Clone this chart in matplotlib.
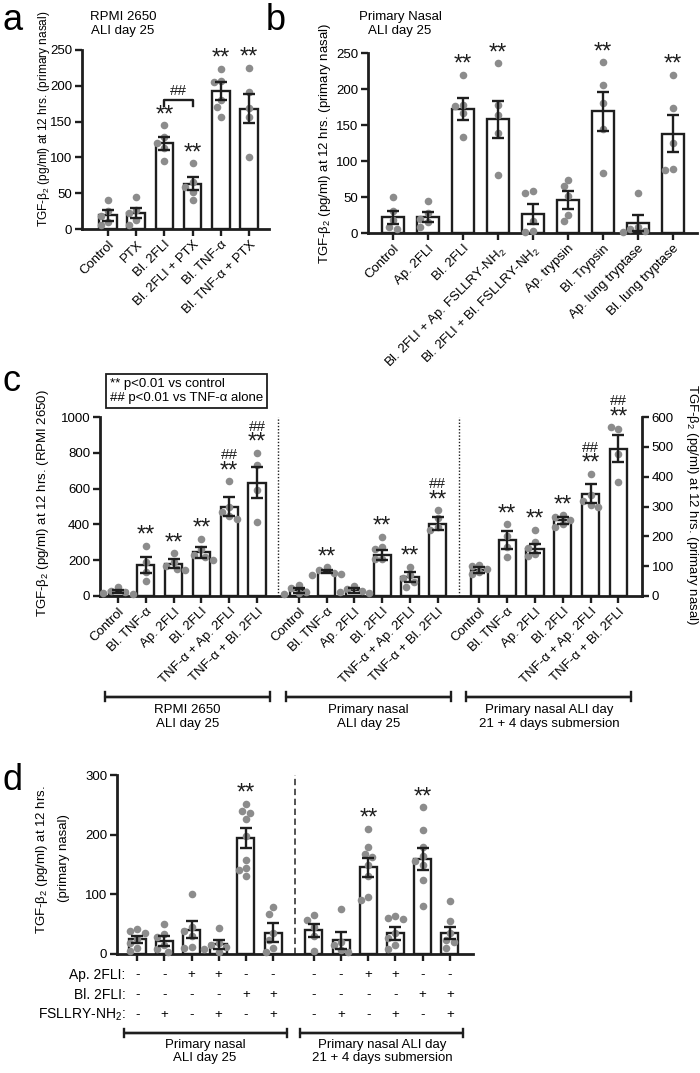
import matplotlib
matplotlib.use("Agg")
import matplotlib.pyplot as plt
from matplotlib.lines import Line2D
import numpy as np

plt.rcParams['font.family'] = ['Liberation Sans', 'DejaVu Sans']
plt.rcParams['mathtext.fontset'] = 'custom'
plt.rcParams['mathtext.rm'] = 'Liberation Sans'
plt.rcParams['mathtext.default'] = 'regular'

# ---- panel a: RPMI 2650 ----
a_labels = ['Control', 'PTX', 'Bl. 2FLI', 'Bl. 2FLI + PTX', 'Bl. TNF-α', 'Bl. TNF-α + PTX']
a_mean = [19, 22, 120, 63, 193, 168]
a_sem = [8, 7, 9, 9, 13, 20]
a_pts = [[40, 25, 18, 10, 6], [44, 27, 22, 13, 6], [145, 128, 120, 113, 95],
         [92, 65, 59, 52, 40], [224, 207, 205, 180, 170, 157], [225, 191, 169, 157, 100]]
a_sig = ['', '', '**', '**', '**', '**']

# ---- panel b: primary nasal ----
b_labels = ['Control', 'Ap. 2FLI', 'Bl. 2FLI', 'Bl. 2FLI + Ap. FSLLRY-NH$_2$',
            'Bl. 2FLI + Bl. FSLLRY-NH$_2$', 'Ap. trypsin', 'Bl. Trypsin',
            'Ap. lung tryptase', 'Bl. lung tryptase']
b_mean = [22, 22, 172, 158, 26, 46, 169, 14, 138]
b_sem = [9, 7, 15, 26, 14, 12, 27, 11, 26]
b_pts = [[50, 30, 18, 9, 5], [44, 28, 20, 15, 9], [220, 178, 176, 166, 134],
         [236, 178, 164, 139, 81], [59, 55, 16, 3, 2], [74, 65, 51, 25, 16],
         [237, 206, 180, 144, 84], [55, 8, 5, 3, 2], [220, 174, 125, 89, 88]]
b_sig = ['', '', '**', '**', '', '', '**', '', '**']

# ---- panel c ----
c_labels = ['Control', 'Bl. TNF-α', 'Ap. 2FLI', 'Bl. 2FLI', 'TNF-α + Ap. 2FLI', 'TNF-α + Bl. 2FLI']
c_groups = ['RPMI 2650\nALI day 25', 'Primary nasal\nALI day 25',
            'Primary nasal ALI day\n21 + 4 days submersion']
c1_mean = [26, 172, 181, 245, 499, 634]
c1_sem = [10, 45, 25, 30, 52, 88]
c1_pts = [[50, 30, 25, 15, 10], [280, 190, 135, 85], [240, 190, 170, 150, 145],
          [320, 260, 230, 220, 200], [640, 500, 470, 445, 430], [800, 730, 590, 415]]
c1_sig = ['', '**', '**', '**', '##\n**', '##\n**']
c2_mean = [32, 136, 32, 228, 107, 405]
c2_sem = [15, 10, 14, 28, 28, 38]
c2_pts = [[60, 45, 25, 15, 10], [160, 145, 130, 120, 125], [55, 40, 30, 20, 15],
          [330, 275, 265, 209, 205], [163, 120, 100, 80, 50], [480, 434, 387, 368]]
c2_sig = ['', '**', '', '**', '**', '##\n**']
c3_mean = [86, 187, 159, 254, 343, 494]   # right axis (primary nasal)
c3_sem = [10, 30, 16, 11, 31, 45]
c3_pts = [[105, 100, 90, 80, 75], [240, 200, 165, 130], [222, 180, 160, 140, 135],
          [270, 265, 255, 240, 230], [410, 340, 320, 305, 300], [560, 566, 477, 382]]
c3_sig = ['', '**', '**', '**', '##\n**', '##\n**']

# ---- panel d ----
d_groups = ['Primary nasal\nALI day 25', 'Primary nasal ALI day\n21 + 4 days submersion']
d_rows = ['Ap. 2FLI:', 'Bl. 2FLI:', 'FSLLRY-NH$_2$:']
d_signs = [['-', '-', '+', '+', '-', '-'], ['-', '-', '-', '-', '+', '+'], ['-', '+', '-', '+', '-', '+']]
d1_mean = [25, 22, 41, 16, 194, 36]
d1_sem = [6, 9, 14, 7, 17, 16]
d1_pts = [[42, 38, 35, 25, 18, 10, 5], [50, 33, 28, 15, 8, 4], [100, 45, 38, 30, 12, 10],
          [44, 18, 15, 12, 8, 4], [252, 240, 237, 226, 197, 158, 144, 141, 131], [78, 67, 35, 23, 10, 4]]
d1_sig = ['', '', '', '', '**', '']
d2_mean = [40, 23, 145, 35, 159, 35]
d2_sem = [11, 14, 16, 11, 18, 10]
d2_pts = [[65, 57, 45, 30, 5], [75, 20, 15, 7, 4], [210, 180, 168, 163, 150, 130, 96, 90],
          [63, 60, 58, 35, 26, 15, 8], [246, 208, 180, 165, 156, 149, 124, 80], [89, 55, 35, 23, 20, 10]]
d2_sig = ['', '', '**', '', '**', '']

W, H = 700, 1073
BLK = '#1e1e1e'
GREY = '#8c8c8c'
FS = 9.5
LW = 1.7

fig = plt.figure(figsize=(W / 100, H / 100), dpi=100)


def add_ax(x0, y0, x1, y1):
    return fig.add_axes([x0 / W, 1 - y1 / H, (x1 - x0) / W, (y1 - y0) / H])


def ftext(x, y, s, **kw):
    kw.setdefault('fontsize', FS)
    return fig.text(x / W, 1 - y / H, s, **kw)


def style(ax, left=True, right=False):
    for k in ['top', 'right', 'left', 'bottom']:
        ax.spines[k].set_visible(False)
    ax.spines['bottom'].set_visible(True)
    ax.spines['bottom'].set_linewidth(LW + 0.3)
    ax.spines['bottom'].set_color(BLK)
    side = 'left' if left else 'right'
    ax.spines[side].set_visible(True)
    ax.spines[side].set_linewidth(LW + 0.3)
    ax.spines[side].set_color(BLK)
    ax.tick_params(width=LW, length=5, color=BLK, labelsize=FS, pad=2)
    ax.set_facecolor('none')


def pxscale(ax):
    bb = ax.get_position()
    x0, x1 = ax.get_xlim()
    y0, y1 = ax.get_ylim()
    return bb.width * W / (x1 - x0), bb.height * H / (y1 - y0)


def swarm(vals, sx, sy, d=7.4):
    placed, offs = [], []
    cands = [0] + [s * i * d * 0.5 for i in range(1, 7) for s in (-1, 1)]
    for v in vals:
        y = v * sy
        for c in cands:
            if all((c - px) ** 2 + (y - py) ** 2 >= d * d for px, py in placed):
                break
        placed.append((c, y))
        offs.append(c / sx)
    return offs


def draw_bars(ax, xs, means, sems, pts, sig, width=0.62):
    sx, sy = pxscale(ax)
    ax.bar(xs, means, width=width, color='white', edgecolor=BLK, linewidth=LW, zorder=2)
    for x, p, s in zip(xs, pts, sig):
        offs = swarm(p, sx, sy)
        ax.scatter(np.array(offs) + x, p, s=30, color=GREY, linewidths=0, zorder=3, clip_on=False)
        if s:
            top = max(p)
            lines = s.split('\n')
            yb = top + 4 / sy
            ax.text(x, yb, '**', fontsize=17, ha='center', va='baseline', color=BLK, clip_on=False)
            if len(lines) > 1:
                ax.text(x, top + 22 / sy, '##', fontsize=11, ha='center', va='baseline',
                        color=BLK, clip_on=False)
    ax.errorbar(xs, means, yerr=sems, fmt='none', ecolor=BLK, elinewidth=LW,
                capsize=4, capthick=LW, zorder=4)


def xlabels(ax, xs, labels):
    ax.set_xticks(xs)
    ax.set_xticklabels(labels, rotation=45, ha='right', va='top', rotation_mode='anchor',
                       fontsize=FS)


def bracket(ax, xa, xb, yfrac, tick=0.025):
    tr = ax.get_xaxis_transform()
    ax.add_line(Line2D([xa, xa, xb, xb], [yfrac + tick, yfrac, yfrac, yfrac + tick], transform=tr,
                       color=BLK, lw=LW, clip_on=False))
    ax.add_line(Line2D([xa, xa, xb, xb], [yfrac - tick, yfrac, yfrac, yfrac - tick], transform=tr,
                       color=BLK, lw=LW, clip_on=False))


YLAB = 'TGF-β$_2$ (pg/ml) at 12 hrs. (primary nasal)'

# ================= panel a =================
ax = add_ax(82, 50, 269, 229)
xs = np.arange(6)
ax.set_xlim(-0.92, 5.7)
ax.set_ylim(0, 250)
style(ax)
ax.set_yticks(range(0, 251, 50))
draw_bars(ax, xs, a_mean, a_sem, a_pts, a_sig)
xlabels(ax, xs, a_labels)
ax.plot([2, 2, 3, 3], [172, 180, 180, 172], color=BLK, lw=LW, clip_on=False)
ax.text(2.5, 183, '##', fontsize=11, ha='center', va='bottom', color=BLK)
ftext(123, 24, 'RPMI 2650\nALI day 25', ha='center', va='center', linespacing=1.15)
ftext(44, 119, YLAB, rotation=90, ha='center', va='center', fontsize=8.6)
ftext(2, 30, 'a', fontsize=26, va='baseline')

# ================= panel b =================
ax = add_ax(368, 53, 697, 233)
xs = np.arange(9)
ax.set_xlim(-0.71, 8.69)
ax.set_ylim(0, 250)
style(ax)
ax.set_yticks(range(0, 251, 50))
draw_bars(ax, xs, b_mean, b_sem, b_pts, b_sig)
xlabels(ax, xs, b_labels)
ftext(400, 24, 'Primary Nasal\nALI day 25', ha='center', va='center', linespacing=1.15)
ftext(325, 143, YLAB, rotation=90, ha='center', va='center')
ftext(266, 30, 'b', fontsize=26, va='baseline')

# ================= panel c =================
ax = add_ax(100, 417, 642, 596)
ax.set_xlim(-0.65, 18.85)
ax.set_ylim(0, 1000)
style(ax)
ax.set_yticks(range(0, 1001, 200))
ax2 = ax.twinx()
ax2.set_ylim(0, 600)
style(ax2, left=False, right=True)
ax2.spines['bottom'].set_visible(False)
ax2.set_yticks(range(0, 601, 100))
ax2.set_xlim(ax.get_xlim())
starts = [0, 6.5, 13]
x1 = np.arange(6) + starts[0]
x2 = np.arange(6) + starts[1]
x3 = np.arange(6) + starts[2]
draw_bars(ax, x1, c1_mean, c1_sem, c1_pts, c1_sig)
draw_bars(ax, x2, c2_mean, c2_sem, c2_pts, c2_sig)
draw_bars(ax2, x3, c3_mean, c3_sem, c3_pts, c3_sig)
xlabels(ax, np.concatenate([x1, x2, x3]), c_labels * 3)
for xv in [5.75, 12.25]:
    ax.axvline(xv, 0, 1.0, color=BLK, lw=1.0, ls=(0, (1, 1.3)))
for st, g in zip(starts, c_groups):
    bracket(ax, st + 2.5 - 2.97, st + 2.5 + 2.97, -0.564)
    ax.text(st + 2.5, -0.605, g, transform=ax.get_xaxis_transform(), ha='center', va='top',
            fontsize=FS, linespacing=1.15)
ftext(43, 503, 'TGF-β$_2$ (pg/ml) at 12 hrs. (RPMI 2650)', rotation=90, ha='center', va='center')
ftext(692, 505, YLAB, rotation=270, ha='center', va='center')
ftext(110, 391, '** p<0.01 vs control\n## p<0.01 vs TNF-α alone', ha='left', va='center',
      linespacing=1.25,
      bbox=dict(boxstyle='square,pad=0.3', fc='white', ec=BLK, lw=1.3))
ftext(2, 391, 'c', fontsize=26, va='baseline')

# ================= panel d =================
ax = add_ax(117, 775, 473, 954)
ax.set_xlim(-0.74, 12.35)
ax.set_ylim(0, 300)
style(ax)
ax.set_yticks(range(0, 301, 100))
dstarts = [0, 6.5]
x1 = np.arange(6) + dstarts[0]
x2 = np.arange(6) + dstarts[1]
draw_bars(ax, x1, d1_mean, d1_sem, d1_pts, d1_sig)
draw_bars(ax, x2, d2_mean, d2_sem, d2_pts, d2_sig)
ax.set_xticks(np.concatenate([x1, x2]))
ax.set_xticklabels([])
ax.axvline(5.8, 0, 1.0, color='#444444', lw=1.3, ls=(0, (3.5, 2)))
tr = ax.get_xaxis_transform()
for r, (name, signs) in enumerate(zip(d_rows, d_signs)):
    yf = -(975 + 20 * r - 954) / 179
    ax.text(-0.42, yf, name, transform=tr, ha='right', va='center', fontsize=FS + 0.5)
    for xx, sg in zip(np.concatenate([x1, x2]), signs * 2):
        ax.text(xx, yf, sg, transform=tr, ha='center', va='center', fontsize=FS)
for st, g in zip(dstarts, d_groups):
    bracket(ax, st + 2.5 - 3.0, st + 2.5 + 3.0, -(1033 - 954) / 179)
    ax.text(st + 2.5, -(1039 - 954) / 179, g, transform=tr, ha='center', va='top',
            fontsize=FS, linespacing=1.15)
ftext(42, 860, 'TGF-β$_2$ (pg/ml) at 12 hrs.', rotation=90, ha='center', va='center')
ftext(64, 858, '(primary nasal)', rotation=90, ha='center', va='center')
ftext(2, 790, 'd', fontsize=26, va='baseline')

fig.savefig('out.png', dpi=100)
